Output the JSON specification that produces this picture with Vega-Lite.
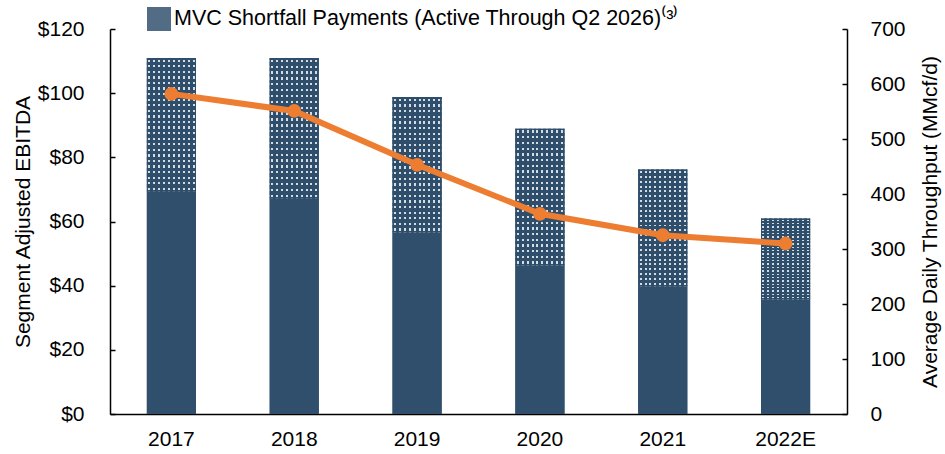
{
  "$schema": "https://vega.github.io/schema/vega-lite/v6.json",
  "width": 737,
  "height": 385,
  "autosize": {"type": "none"},
  "padding": {"left": 110, "top": 29, "right": 98, "bottom": 40},
  "background": "white",
  "config": {
    "view": {"stroke": null},
    "font": "Liberation Sans",
    "axis": {
      "labelFont": "Liberation Sans",
      "titleFont": "Liberation Sans",
      "labelFontSize": 21,
      "titleFontSize": 21,
      "titleFontWeight": "normal",
      "labelColor": "black",
      "titleColor": "black",
      "domainColor": "black",
      "domainWidth": 1.5,
      "tickColor": "black",
      "tickWidth": 1.5,
      "grid": false
    }
  },
  "datasets": {
    "ebitda": [
      {"year": "2017", "component": "Base", "value": 69.3},
      {"year": "2017", "component": "MVC Shortfall Payments (Active Through Q2 2026)⁽³⁾", "value": 41.7},
      {"year": "2018", "component": "Base", "value": 67.1},
      {"year": "2018", "component": "MVC Shortfall Payments (Active Through Q2 2026)⁽³⁾", "value": 43.9},
      {"year": "2019", "component": "Base", "value": 56.6},
      {"year": "2019", "component": "MVC Shortfall Payments (Active Through Q2 2026)⁽³⁾", "value": 42.2},
      {"year": "2020", "component": "Base", "value": 46.3},
      {"year": "2020", "component": "MVC Shortfall Payments (Active Through Q2 2026)⁽³⁾", "value": 42.6},
      {"year": "2021", "component": "Base", "value": 39.8},
      {"year": "2021", "component": "MVC Shortfall Payments (Active Through Q2 2026)⁽³⁾", "value": 36.4},
      {"year": "2022E", "component": "Base", "value": 35.7},
      {"year": "2022E", "component": "MVC Shortfall Payments (Active Through Q2 2026)⁽³⁾", "value": 25.2}
    ],
    "throughput": [
      {"year": "2017", "mmcfd": 582},
      {"year": "2018", "mmcfd": 551},
      {"year": "2019", "mmcfd": 453},
      {"year": "2020", "mmcfd": 364},
      {"year": "2021", "mmcfd": 325},
      {"year": "2022E", "mmcfd": 310}
    ]
  },
  "encoding": {
    "x": {
      "field": "year",
      "type": "nominal",
      "sort": null,
      "scale": {"paddingInner": 0.6, "paddingOuter": 0.3},
      "axis": {"title": null, "labelAngle": 0, "ticks": false, "labelPadding": 14}
    }
  },
  "layer": [
    {
      "data": {"name": "ebitda"},
      "encoding": {
        "y": {
          "field": "value",
          "type": "quantitative",
          "stack": "zero",
          "scale": {"domain": [0, 120], "nice": false},
          "axis": {
            "title": "Segment Adjusted EBITDA",
            "values": [0, 20, 40, 60, 80, 100, 120],
            "format": "$.0f",
            "tickSize": -5,
            "labelPadding": 31,
            "titlePadding": 4
          }
        },
        "detail": {"field": "component", "type": "nominal"},
        "order": {"field": "component", "sort": "ascending"}
      },
      "layer": [
        {
          "mark": {"type": "bar"},
          "encoding": {
            "color": {
              "field": "component",
              "type": "nominal",
              "scale": {
                "domain": ["MVC Shortfall Payments (Active Through Q2 2026)⁽³⁾", "Base"],
                "range": ["#536c86", "#304f6c"]
              },
              "legend": {
                "values": ["MVC Shortfall Payments (Active Through Q2 2026)⁽³⁾"],
                "title": null,
                "orient": "none",
                "legendX": 37,
                "legendY": -22,
                "symbolType": "square",
                "symbolSize": 576,
                "symbolStrokeWidth": 0,
                "labelFontSize": 21.5,
                "labelFont": "Liberation Sans",
                "labelColor": "black",
                "labelOffset": 3,
                "labelLimit": 800
              }
            }
          }
        },
        {
          "mark": {"type": "bar"},
          "encoding": {
            "fill": {
              "condition": {"test": "datum.component === 'Base'", "value": "#304f6c"},
              "value": {
                "gradient": "linear", "x1": 0, "y1": 0, "x2": 1, "y2": 0,
                "stops": [
                  {"offset": 0, "color": "#2f4e6b"},
                  {"offset": 0.03, "color": "#2f4e6b"}, {"offset": 0.03, "color": "#d3dbe3"}, {"offset": 0.07, "color": "#d3dbe3"}, {"offset": 0.07, "color": "#2f4e6b"},
                  {"offset": 0.13, "color": "#2f4e6b"}, {"offset": 0.13, "color": "#d3dbe3"}, {"offset": 0.17, "color": "#d3dbe3"}, {"offset": 0.17, "color": "#2f4e6b"},
                  {"offset": 0.23, "color": "#2f4e6b"}, {"offset": 0.23, "color": "#d3dbe3"}, {"offset": 0.27, "color": "#d3dbe3"}, {"offset": 0.27, "color": "#2f4e6b"},
                  {"offset": 0.33, "color": "#2f4e6b"}, {"offset": 0.33, "color": "#d3dbe3"}, {"offset": 0.37, "color": "#d3dbe3"}, {"offset": 0.37, "color": "#2f4e6b"},
                  {"offset": 0.43, "color": "#2f4e6b"}, {"offset": 0.43, "color": "#d3dbe3"}, {"offset": 0.47, "color": "#d3dbe3"}, {"offset": 0.47, "color": "#2f4e6b"},
                  {"offset": 0.53, "color": "#2f4e6b"}, {"offset": 0.53, "color": "#d3dbe3"}, {"offset": 0.57, "color": "#d3dbe3"}, {"offset": 0.57, "color": "#2f4e6b"},
                  {"offset": 0.63, "color": "#2f4e6b"}, {"offset": 0.63, "color": "#d3dbe3"}, {"offset": 0.67, "color": "#d3dbe3"}, {"offset": 0.67, "color": "#2f4e6b"},
                  {"offset": 0.73, "color": "#2f4e6b"}, {"offset": 0.73, "color": "#d3dbe3"}, {"offset": 0.77, "color": "#d3dbe3"}, {"offset": 0.77, "color": "#2f4e6b"},
                  {"offset": 0.83, "color": "#2f4e6b"}, {"offset": 0.83, "color": "#d3dbe3"}, {"offset": 0.87, "color": "#d3dbe3"}, {"offset": 0.87, "color": "#2f4e6b"},
                  {"offset": 0.93, "color": "#2f4e6b"}, {"offset": 0.93, "color": "#d3dbe3"}, {"offset": 0.97, "color": "#d3dbe3"}, {"offset": 0.97, "color": "#2f4e6b"},
                  {"offset": 1, "color": "#2f4e6b"}
                ]
              }
            }
          }
        },
        {
          "mark": {"type": "bar"},
          "encoding": {
            "fill": {
              "condition": {"test": "datum.component === 'Base'", "value": "rgba(0,0,0,0)"},
              "value": {
                "gradient": "linear", "x1": 0, "y1": 0, "x2": 0, "y2": 1,
                "stops": [
                  {"offset": 0, "color": "#2f4e6b"},
                  {"offset": 0.0125, "color": "#2f4e6b"}, {"offset": 0.0125, "color": "rgba(47,78,107,0)"}, {"offset": 0.029167, "color": "rgba(47,78,107,0)"}, {"offset": 0.029167, "color": "#2f4e6b"},
                  {"offset": 0.054167, "color": "#2f4e6b"}, {"offset": 0.054167, "color": "rgba(47,78,107,0)"}, {"offset": 0.070833, "color": "rgba(47,78,107,0)"}, {"offset": 0.070833, "color": "#2f4e6b"},
                  {"offset": 0.095833, "color": "#2f4e6b"}, {"offset": 0.095833, "color": "rgba(47,78,107,0)"}, {"offset": 0.1125, "color": "rgba(47,78,107,0)"}, {"offset": 0.1125, "color": "#2f4e6b"},
                  {"offset": 0.1375, "color": "#2f4e6b"}, {"offset": 0.1375, "color": "rgba(47,78,107,0)"}, {"offset": 0.154167, "color": "rgba(47,78,107,0)"}, {"offset": 0.154167, "color": "#2f4e6b"},
                  {"offset": 0.179167, "color": "#2f4e6b"}, {"offset": 0.179167, "color": "rgba(47,78,107,0)"}, {"offset": 0.195833, "color": "rgba(47,78,107,0)"}, {"offset": 0.195833, "color": "#2f4e6b"},
                  {"offset": 0.220833, "color": "#2f4e6b"}, {"offset": 0.220833, "color": "rgba(47,78,107,0)"}, {"offset": 0.2375, "color": "rgba(47,78,107,0)"}, {"offset": 0.2375, "color": "#2f4e6b"},
                  {"offset": 0.2625, "color": "#2f4e6b"}, {"offset": 0.2625, "color": "rgba(47,78,107,0)"}, {"offset": 0.279167, "color": "rgba(47,78,107,0)"}, {"offset": 0.279167, "color": "#2f4e6b"},
                  {"offset": 0.304167, "color": "#2f4e6b"}, {"offset": 0.304167, "color": "rgba(47,78,107,0)"}, {"offset": 0.320833, "color": "rgba(47,78,107,0)"}, {"offset": 0.320833, "color": "#2f4e6b"},
                  {"offset": 0.345833, "color": "#2f4e6b"}, {"offset": 0.345833, "color": "rgba(47,78,107,0)"}, {"offset": 0.3625, "color": "rgba(47,78,107,0)"}, {"offset": 0.3625, "color": "#2f4e6b"},
                  {"offset": 0.3875, "color": "#2f4e6b"}, {"offset": 0.3875, "color": "rgba(47,78,107,0)"}, {"offset": 0.404167, "color": "rgba(47,78,107,0)"}, {"offset": 0.404167, "color": "#2f4e6b"},
                  {"offset": 0.429167, "color": "#2f4e6b"}, {"offset": 0.429167, "color": "rgba(47,78,107,0)"}, {"offset": 0.445833, "color": "rgba(47,78,107,0)"}, {"offset": 0.445833, "color": "#2f4e6b"},
                  {"offset": 0.470833, "color": "#2f4e6b"}, {"offset": 0.470833, "color": "rgba(47,78,107,0)"}, {"offset": 0.4875, "color": "rgba(47,78,107,0)"}, {"offset": 0.4875, "color": "#2f4e6b"},
                  {"offset": 0.5125, "color": "#2f4e6b"}, {"offset": 0.5125, "color": "rgba(47,78,107,0)"}, {"offset": 0.529167, "color": "rgba(47,78,107,0)"}, {"offset": 0.529167, "color": "#2f4e6b"},
                  {"offset": 0.554167, "color": "#2f4e6b"}, {"offset": 0.554167, "color": "rgba(47,78,107,0)"}, {"offset": 0.570833, "color": "rgba(47,78,107,0)"}, {"offset": 0.570833, "color": "#2f4e6b"},
                  {"offset": 0.595833, "color": "#2f4e6b"}, {"offset": 0.595833, "color": "rgba(47,78,107,0)"}, {"offset": 0.6125, "color": "rgba(47,78,107,0)"}, {"offset": 0.6125, "color": "#2f4e6b"},
                  {"offset": 0.6375, "color": "#2f4e6b"}, {"offset": 0.6375, "color": "rgba(47,78,107,0)"}, {"offset": 0.654167, "color": "rgba(47,78,107,0)"}, {"offset": 0.654167, "color": "#2f4e6b"},
                  {"offset": 0.679167, "color": "#2f4e6b"}, {"offset": 0.679167, "color": "rgba(47,78,107,0)"}, {"offset": 0.695833, "color": "rgba(47,78,107,0)"}, {"offset": 0.695833, "color": "#2f4e6b"},
                  {"offset": 0.720833, "color": "#2f4e6b"}, {"offset": 0.720833, "color": "rgba(47,78,107,0)"}, {"offset": 0.7375, "color": "rgba(47,78,107,0)"}, {"offset": 0.7375, "color": "#2f4e6b"},
                  {"offset": 0.7625, "color": "#2f4e6b"}, {"offset": 0.7625, "color": "rgba(47,78,107,0)"}, {"offset": 0.779167, "color": "rgba(47,78,107,0)"}, {"offset": 0.779167, "color": "#2f4e6b"},
                  {"offset": 0.804167, "color": "#2f4e6b"}, {"offset": 0.804167, "color": "rgba(47,78,107,0)"}, {"offset": 0.820833, "color": "rgba(47,78,107,0)"}, {"offset": 0.820833, "color": "#2f4e6b"},
                  {"offset": 0.845833, "color": "#2f4e6b"}, {"offset": 0.845833, "color": "rgba(47,78,107,0)"}, {"offset": 0.8625, "color": "rgba(47,78,107,0)"}, {"offset": 0.8625, "color": "#2f4e6b"},
                  {"offset": 0.8875, "color": "#2f4e6b"}, {"offset": 0.8875, "color": "rgba(47,78,107,0)"}, {"offset": 0.904167, "color": "rgba(47,78,107,0)"}, {"offset": 0.904167, "color": "#2f4e6b"},
                  {"offset": 0.929167, "color": "#2f4e6b"}, {"offset": 0.929167, "color": "rgba(47,78,107,0)"}, {"offset": 0.945833, "color": "rgba(47,78,107,0)"}, {"offset": 0.945833, "color": "#2f4e6b"},
                  {"offset": 0.970833, "color": "#2f4e6b"}, {"offset": 0.970833, "color": "rgba(47,78,107,0)"}, {"offset": 0.9875, "color": "rgba(47,78,107,0)"}, {"offset": 0.9875, "color": "#2f4e6b"},
                  {"offset": 1, "color": "#2f4e6b"}
                ]
              }
            }
          }
        }
      ]
    },
    {
      "data": {"name": "throughput"},
      "mark": {"type": "line", "color": "#ed7d31", "strokeWidth": 6, "point": {"filled": true, "size": 190, "color": "#ed7d31"}},
      "encoding": {
        "y": {
          "field": "mmcfd",
          "type": "quantitative",
          "scale": {"domain": [0, 700], "nice": false},
          "axis": {
            "orient": "right",
            "title": "Average Daily Throughput (MMcf/d)",
            "titleAngle": 270,
            "values": [0, 100, 200, 300, 400, 500, 600, 700],
            "tickSize": -5,
            "labelPadding": 28,
            "titlePadding": 35
          }
        }
      }
    }
  ],
  "resolve": {"scale": {"y": "independent"}}
}
